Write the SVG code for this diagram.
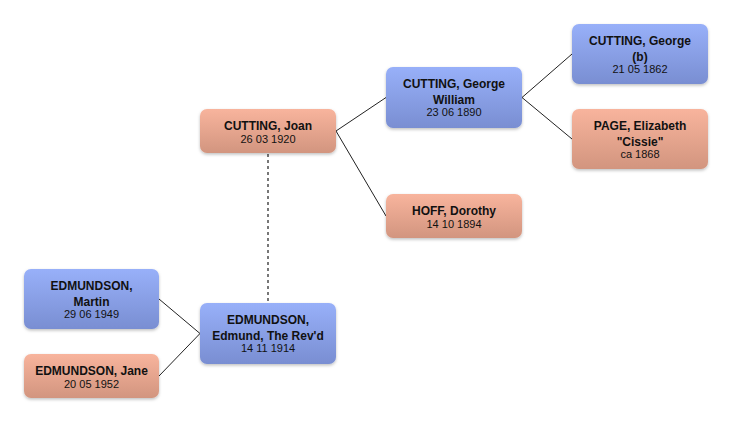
<svg xmlns="http://www.w3.org/2000/svg" width="732" height="423" viewBox="0 0 732 423">
<defs>
<linearGradient id="gBlue" x1="0" y1="0" x2="0" y2="1">
<stop offset="0" stop-color="#98b0f9"/>
<stop offset="1" stop-color="#798ed2"/>
</linearGradient>
<linearGradient id="gPink" x1="0" y1="0" x2="0" y2="1">
<stop offset="0" stop-color="#f8b49d"/>
<stop offset="1" stop-color="#d2957f"/>
</linearGradient>
<filter id="sh" x="-10%" y="-10%" width="120%" height="130%">
<feDropShadow dx="0" dy="1.5" stdDeviation="1.5" flood-color="#000" flood-opacity="0.25"/>
</filter>
</defs>
<style>
.m rect{fill:url(#gBlue);filter:url(#sh)}
.f rect{fill:url(#gPink);filter:url(#sh)}
text{font-family:"Liberation Sans",Arial,sans-serif;text-anchor:middle;fill:#111}
.n{font-size:12px;font-weight:bold}
.d{font-size:11px}
.c line{stroke:#222;stroke-width:1}
.c .dash{stroke:#777;stroke-width:2;stroke-dasharray:3,3}
</style>
<rect width="732" height="423" fill="#fff"/>
<g class="c" id="connectors">
<line x1="336" y1="131" x2="386" y2="97.5"/>
<line x1="336" y1="131" x2="386" y2="216"/>
<line x1="522" y1="97.5" x2="572" y2="54"/>
<line x1="522" y1="97.5" x2="572" y2="139"/>
<line x1="200" y1="333.5" x2="159" y2="299"/>
<line x1="200" y1="333.5" x2="159" y2="376"/>
<line class="dash" x1="268" y1="154" x2="268" y2="302"/>
</g>
<g id="joan" class="f">
<rect x="200" y="109" width="136" height="44" rx="7"/>
<text class="n" x="268" y="130">CUTTING, Joan</text>
<text class="d" x="268" y="143">26 03 1920</text>
</g>
<g id="georgeWilliam" class="m">
<rect x="386" y="67" width="136" height="61" rx="7"/>
<text class="n" x="454" y="88">CUTTING, George</text>
<text class="n" x="454" y="104">William</text>
<text class="d" x="454" y="116">23 06 1890</text>
</g>
<g id="dorothy" class="f">
<rect x="386" y="194" width="136" height="44" rx="7"/>
<text class="n" x="454" y="215">HOFF, Dorothy</text>
<text class="d" x="454" y="228">14 10 1894</text>
</g>
<g id="georgeB" class="m">
<rect x="572" y="24" width="136" height="60" rx="7"/>
<text class="n" x="640" y="45">CUTTING, George</text>
<text class="n" x="640" y="61">(b)</text>
<text class="d" x="640" y="73">21 05 1862</text>
</g>
<g id="elizabeth" class="f">
<rect x="572" y="109" width="136" height="60" rx="7"/>
<text class="n" x="640" y="130">PAGE, Elizabeth</text>
<text class="n" x="640" y="146">"Cissie"</text>
<text class="d" x="640" y="158">ca 1868</text>
</g>
<g id="martin" class="m">
<rect x="24" y="269" width="135" height="60" rx="7"/>
<text class="n" x="91.5" y="290">EDMUNDSON,</text>
<text class="n" x="91.5" y="306">Martin</text>
<text class="d" x="91.5" y="318">29 06 1949</text>
</g>
<g id="edmund" class="m">
<rect x="200" y="303" width="136" height="61" rx="7"/>
<text class="n" x="268" y="324">EDMUNDSON,</text>
<text class="n" x="268" y="340">Edmund, The Rev'd</text>
<text class="d" x="268" y="352">14 11 1914</text>
</g>
<g id="jane" class="f">
<rect x="24" y="354" width="135" height="44" rx="7"/>
<text class="n" x="91.5" y="375">EDMUNDSON, Jane</text>
<text class="d" x="91.5" y="388">20 05 1952</text>
</g>
</svg>
